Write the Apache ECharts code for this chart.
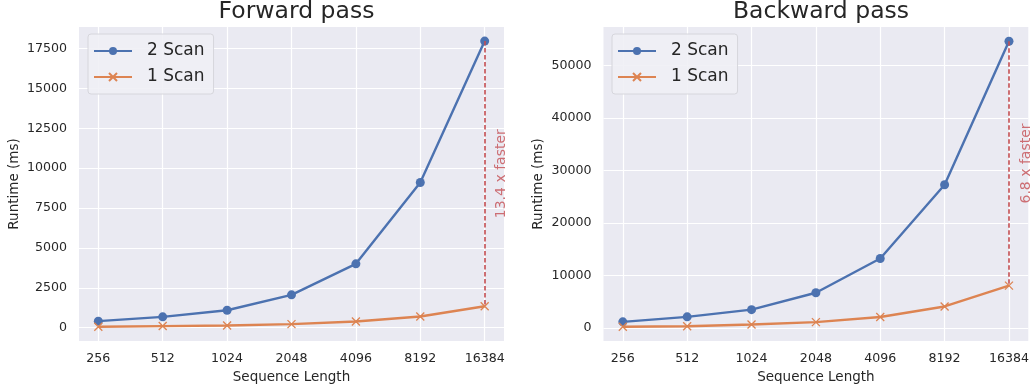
<!DOCTYPE html>
<html>
<head>
<meta charset="utf-8">
<script src="https://cdn.jsdelivr.net/npm/echarts@6/dist/echarts.min.js"></script>
<style>
html,body{margin:0;padding:0;background:#fff;}
#chart{width:1032px;height:392px;}
</style>
</head>
<body>
<div id="chart"></div>
<script>
const categories = ['256', '512', '1024', '2048', '4096', '8192', '16384'];
const fwdTwoScan = [410, 680, 1090, 2060, 4000, 9100, 17960];
const fwdOneScan = [60, 100, 140, 225, 390, 700, 1340];
const bwdTwoScan = [1130, 2080, 3450, 6680, 13200, 27250, 54600];
const bwdOneScan = [200, 300, 620, 1080, 2060, 4060, 8030];
const fwdYTicks = [0, 2500, 5000, 7500, 10000, 12500, 15000, 17500];
const bwdYTicks = [0, 10000, 20000, 30000, 40000, 50000];
const xTickIdx = [0, 1, 2, 3, 4, 5, 6];
const titles = ['Forward pass', 'Backward pass'];
const speedups = ['13.4 x faster', '6.8 x faster'];
const seriesNames = ['2 Scan', '1 Scan'];

const BLUE = '#4c72b0', ORANGE = '#dd8452', RED = '#c44e52', TXT = '#262626';
const FONT = 'DejaVu Sans';
const CROSS = 'path://M0,0L10,10M10,0L0,10';

const grids = [
  {left: 79, top: 27, width: 425, height: 314},
  {left: 603.5, top: 27, width: 425, height: 314}
];
const yRanges = [[-835, 18845], [-2520, 57320]];

function xAxis(i) {
  return {
    type: 'value', gridIndex: i, min: -0.3, max: 6.3,
    name: 'Sequence Length', nameLocation: 'middle', nameGap: 29,
    nameTextStyle: {fontFamily: FONT, fontSize: 13.5, color: TXT},
    axisLine: {show: false},
    axisTick: {show: false, customValues: xTickIdx},
    axisLabel: {customValues: xTickIdx, formatter: v => categories[Math.round(v)],
      fontFamily: FONT, fontSize: 12.6, color: TXT, margin: 11},
    splitLine: {show: true, lineStyle: {color: '#ffffff', width: 1.2}}
  };
}
function yAxis(i, ticks) {
  return {
    type: 'value', gridIndex: i, min: yRanges[i][0], max: yRanges[i][1],
    name: 'Runtime (ms)', nameLocation: 'middle', nameGap: 58,
    nameTextStyle: {fontFamily: FONT, fontSize: 13.5, color: TXT},
    axisLine: {show: false},
    axisTick: {show: false, customValues: ticks},
    axisLabel: {customValues: ticks, formatter: v => String(v),
      fontFamily: FONT, fontSize: 12.6, color: TXT, margin: 12},
    splitLine: {show: true, lineStyle: {color: '#ffffff', width: 1.2}}
  };
}
function pairs(arr) { return arr.map((v, i) => [i, v]); }

function panelSeries(i, two, one) {
  const last = categories.length - 1;
  return [
    {
      name: seriesNames[0], type: 'line', xAxisIndex: i, yAxisIndex: i,
      data: pairs(two), symbol: 'circle', symbolSize: 9,
      lineStyle: {color: BLUE, width: 2.4}, itemStyle: {color: BLUE},
      z: 3, silent: true,
      markLine: {
        silent: true, symbol: 'none', animation: false,
        lineStyle: {color: RED, type: [4.5, 2.5], width: 1.6},
        label: {show: false},
        data: [[{coord: [last, two[last]]}, {coord: [last, one[last]]}]]
      }
    },
    {
      name: seriesNames[1], type: 'line', xAxisIndex: i, yAxisIndex: i,
      data: pairs(one), symbol: CROSS, symbolSize: 8,
      lineStyle: {color: ORANGE, width: 2.4},
      itemStyle: {color: ORANGE, borderColor: ORANGE, borderWidth: 1.3},
      z: 3, silent: true
    },
    {
      type: 'scatter', xAxisIndex: i, yAxisIndex: i, silent: true,
      data: [[last, (two[last] + one[last]) / 2]], symbolSize: 0,
      label: {show: true, formatter: speedups[i], rotate: 90, position: 'right', distance: 17,
        fontFamily: FONT, fontSize: 14, color: RED, align: 'center', verticalAlign: 'middle'}
    }
  ];
}

function legend(i, left) {
  return {
    data: seriesNames.slice(),
    orient: 'vertical', left: left, top: 34,
    padding: [7, 9, 7, 5], itemGap: 6, itemWidth: 38, itemHeight: 10,
    backgroundColor: 'rgba(240,240,245,0.9)', borderColor: '#d6d6dc', borderWidth: 1, borderRadius: 3,
    textStyle: {fontFamily: FONT, fontSize: 17, color: TXT, padding: [0, 0, 0, 10], lineHeight: 20},
    selectedMode: false
  };
}

const chart = echarts.init(document.getElementById('chart'), null, {renderer: 'canvas'});
chart.setOption({
  animation: false,
  backgroundColor: '#ffffff',
  title: titles.map((t, i) => ({
    text: t, left: grids[i].left + grids[i].width / 2, top: -5, textAlign: 'center',
    textStyle: {fontFamily: FONT, fontSize: 23.5, fontWeight: 'normal', color: TXT}
  })),
  legend: [legend(0, 88), legend(1, 612)],
  grid: grids.map(g => Object.assign({show: true, backgroundColor: '#eaeaf2', borderWidth: 0, containLabel: false}, g)),
  xAxis: [xAxis(0), xAxis(1)],
  yAxis: [yAxis(0, fwdYTicks), yAxis(1, bwdYTicks)],
  series: panelSeries(0, fwdTwoScan, fwdOneScan).concat(panelSeries(1, bwdTwoScan, bwdOneScan))
});
</script>
</body>
</html>
